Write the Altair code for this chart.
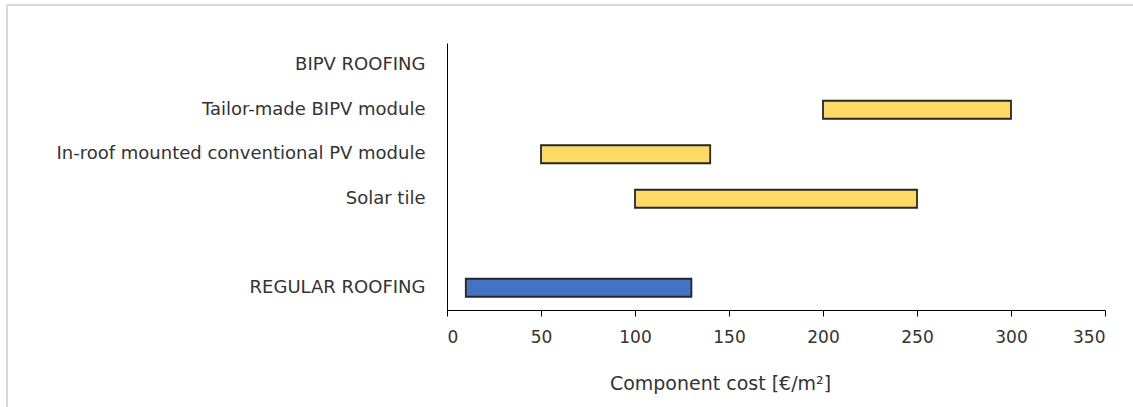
import altair as alt
import pandas as pd

categories = ["BIPV ROOFING", "Tailor-made BIPV module",
              "In-roof mounted conventional PV module", "Solar tile", " ",
              "REGULAR ROOFING"]
bar_cats = ["Tailor-made BIPV module", "In-roof mounted conventional PV module",
            "Solar tile", "REGULAR ROOFING"]
cost_low = [200, 50, 100, 10]
cost_high = [300, 140, 250, 130]
group = ["BIPV", "BIPV", "BIPV", "Regular"]

df = pd.DataFrame({"cat": bar_cats, "low": cost_low, "high": cost_high, "group": group})

FONT = "DejaVu Sans"

bars = alt.Chart(df).mark_bar(height=18, stroke="#262626", strokeWidth=1.8).encode(
    x=alt.X("low:Q", scale=alt.Scale(domain=[0, 350], nice=False),
            axis=alt.Axis(values=[0, 50, 100, 150, 200, 250, 300, 350],
                          title="Component cost [€/m²]", grid=False,
                          tickSize=6, tickColor="#000", domainColor="#000",
                          labelFontSize=17, labelColor="#333333", labelPadding=13,
                          titleFontSize=19, titleColor="#333333", titleFontWeight="normal",
                          titleX=273, titleY=73, titleBaseline="middle", titleAlign="center",
                          labelFont=FONT, titleFont=FONT)),
    x2="high:Q",
    y=alt.Y("cat:N", scale=alt.Scale(domain=categories), sort=categories,
            axis=alt.Axis(title=None, ticks=False, domainColor="#000",
                          labelFontSize=18, labelColor="#333333", labelPadding=22,
                          labelFont=FONT, labelLimit=600)),
    color=alt.Color("group:N", scale=alt.Scale(domain=["BIPV", "Regular"],
                                               range=["#FFD966", "#4472C4"]), legend=None),
)

frame_top = alt.Chart(df).mark_rule(color="#d9d9d9", strokeWidth=1.5).encode(
    x=alt.value(-440), x2=alt.value(700), y=alt.value(-38))
frame_left = alt.Chart(df).mark_rule(color="#d9d9d9", strokeWidth=1.5).encode(
    x=alt.value(-440), y=alt.value(-38), y2=alt.value(370))

chart = alt.layer(frame_top, frame_left, bars).properties(
    width=658, height=267,
    autosize=alt.AutoSizeParams(type="none"),
    padding={"left": 447, "top": 43, "right": 28, "bottom": 97},
).configure(background="white").configure_view(stroke=None)

chart.save("out.html", embed_options={"renderer": "svg", "actions": False})
